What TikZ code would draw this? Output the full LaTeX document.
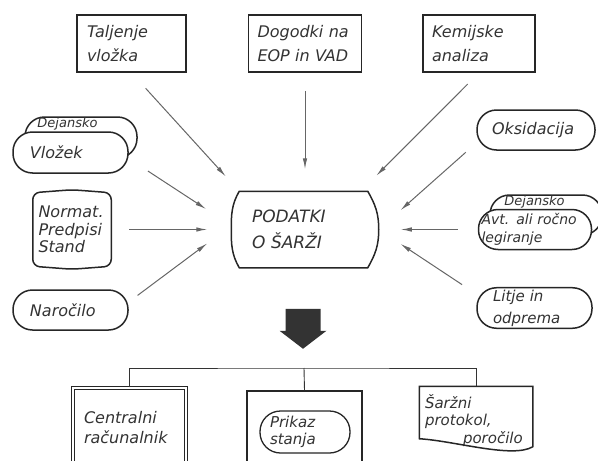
\documentclass[tikz,border=0pt]{standalone}
\usepackage{fontspec}
\setmainfont{DejaVu Sans}
\usetikzlibrary{positioning,arrows.meta,calc}

\tikzset{
  box/.style={draw=black!85, line width=1.5pt, align=left, inner xsep=10pt, inner ysep=2pt,
    text=black!80, font=\itshape\fontsize{16}{24}\selectfont},
  topbox/.style={box, minimum height=57pt},
  pill/.style={box, rounded corners=19.5pt, minimum height=40pt, fill=white},
  lbl/.style={text=black!80, font=\itshape\fontsize{13}{14}\selectfont, inner sep=1pt},
  arr/.style={-{Latex[length=11pt,width=4.5pt]}, line width=1pt, draw=black!60},
  wire/.style={line width=0.9pt, draw=black!80}
}

\begin{document}
\begin{tikzpicture}[x=1pt,y=-1pt]
  \useasboundingbox (0,0) rectangle (598,461);
  \clip (0,0) rectangle (598,461);

  % centre
  \node(pod)[box, draw=none, text width=106pt, inner xsep=20pt, minimum height=75pt,
    font=\itshape\fontsize{17}{26}\selectfont] at (305,229.5) {PODATKI\\O ŠARŽI};
  \draw[line width=1.5pt, black!85] ([xshift=8pt]pod.north west) -- ([xshift=-11pt]pod.north east)
    to[out=-60,in=90] (pod.east) to[out=-90,in=60] ([xshift=-11pt]pod.south east)
    -- ([xshift=8pt]pod.south west) to[out=120,in=-90] (pod.west) to[out=90,in=240] cycle;

  % top row
  \node(tal)[topbox, text width=89pt] at (131.5,43.5) {Taljenje\\vložka};
  \node(dog)[topbox, text width=95pt, inner xsep=9pt, right=61pt of tal] {Dogodki na\\EOP in VAD};
  \node(kem)[topbox, text width=94pt, inner xsep=9pt, right=60pt of dog] {Kemijske\\analiza};

  % left column
  \node(vlob)[pill, text width=92pt, minimum height=41pt,
    label={[lbl,anchor=north west,xshift=12pt]north west:Dejansko}] at (81,137.5) {};
  \node(vlo)[pill, text width=81pt, inner xsep=17pt, minimum height=41pt] at (70.5,152.5) {Vložek};

  \node(nor)[box, draw=none, text width=67pt, inner xsep=5pt, minimum height=72pt,
    font=\itshape\fontsize{16}{17.5}\selectfont, left=120pt of pod] {Normat.\\Predpisi\\Stand};
  \draw[line width=1.5pt, black!85, rounded corners=7pt] (nor.west) -- (nor.north west)
    -- ([yshift=3pt]nor.north) -- (nor.north east) -- (nor.south east)
    -- ([yshift=-3pt]nor.south) -- (nor.south west) -- cycle;

  \node(nar)[pill, text width=81pt, inner xsep=17pt] at (70.5,310) {Naročilo};

  % right column
  \node(oks)[pill, text width=88pt, inner xsep=15pt] at (536,130) {Oksidacija};

  \node(avtb)[pill, text width=92pt,
    label={[lbl,anchor=north west,xshift=14pt]north west:Dejansko}] at (546,215) {};
  \node(avt)[pill, text width=107pt, inner xsep=3pt, right=99pt of pod,
    font=\itshape\fontsize{14}{18}\selectfont] {Avt. ali ročno\\legiranje};

  \node(lit)[pill, text width=83pt, inner xsep=16pt,
    font=\itshape\fontsize{15}{22}\selectfont] at (534.5,308) {Litje in\\odprema};

  % arrows into the centre
  \draw[arr, shorten <=21pt, shorten >=20pt] (tal.south) -- ([xshift=8pt]pod.north west);
  \draw[arr, shorten <=18pt, shorten >=22pt] (dog.south) -- (pod.north);
  \draw[arr, shorten <=16pt, shorten >=22pt] (kem.south) -- ([xshift=-18pt]pod.north east);

  \draw[arr, shorten <=23pt, shorten >=30pt] ([yshift=-6pt]vlo.east) -- ([yshift=4pt]pod.west);
  \draw[arr, shorten <=18pt, shorten >=24pt] (nor.east) -- (pod.west);
  \draw[arr, shorten <=11pt, shorten >=30pt] ([yshift=8pt]nar.east) -- ([yshift=4pt]pod.west);

  \draw[arr, shorten <=14pt, shorten >=29pt] ([yshift=-13pt]oks.west) -- (pod.east);
  \draw[arr, shorten <=20pt, shorten >=22pt] (avt.west) -- (pod.east);
  \draw[arr, shorten <=17pt, shorten >=26pt] ([yshift=14pt]lit.west) -- (pod.east);

  % big arrow
  \coordinate(blk) at ([xshift=-2pt,yshift=-41pt]pod.south);
  \fill[black!80] ([xshift=-17.5pt]blk) -- ([xshift=17.5pt]blk) -- ([xshift=17.5pt,yshift=-22pt]blk)
    -- ([xshift=23.5pt,yshift=-22pt]blk) -- ([yshift=-40pt]blk) -- ([xshift=-23.5pt,yshift=-22pt]blk)
    -- ([xshift=-17.5pt,yshift=-22pt]blk) -- cycle;

  % bottom row
  \node(cen)[box, double, double distance=2.5pt, line width=1.2pt, text width=91pt, inner xsep=11pt,
    minimum height=80pt, font=\itshape\fontsize{16}{20}\selectfont] at (129.5,428) {Centralni\\računalnik};

  \node(prb)[box, minimum width=115pt, minimum height=80pt] at (304.5,431) {};
  \node(prk)[pill, text width=70pt, inner xsep=10pt, minimum height=42pt, rounded corners=20.5pt,
    line width=1.3pt, font=\itshape\fontsize{15}{17.5}\selectfont] at (305,432) {Prikaz\\stanja};

  \node(sar)[box, draw=none, text width=102pt, inner xsep=5pt, minimum height=67pt,
    font=\itshape\fontsize{15}{17.5}\selectfont] at (476,420.5) {Šaržni\\protokol,\\\hspace*{38pt}poročilo};
  \draw[line width=1.5pt, black!85] (sar.north west) -- (sar.north east) -- ([yshift=8pt]sar.south east)
    .. controls ([xshift=-20pt,yshift=-4pt]sar.south east) and ([xshift=35pt,yshift=14pt]sar.south west)
    .. ([yshift=16pt]sar.south west) -- cycle;

  \coordinate(bus) at (304,368);
  \draw[wire] (cen.north) |- (bus) -| (sar.north);
  \draw[wire] (bus) -- (prb.north);
\end{tikzpicture}
\end{document}
